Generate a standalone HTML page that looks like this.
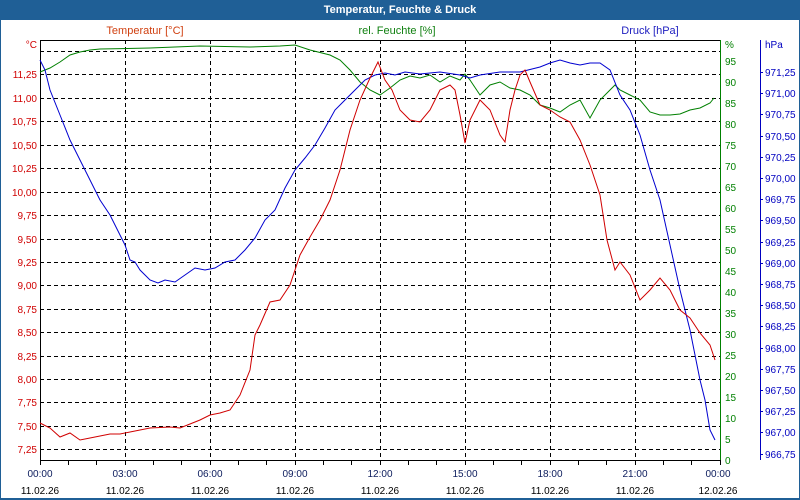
<!DOCTYPE html>
<html><head><meta charset="utf-8"><style>
html,body{margin:0;padding:0;background:#fff}
svg{display:block;font-family:"Liberation Sans",sans-serif;font-size:10px}
</style></head><body>
<svg width="800" height="500" viewBox="0 0 800 500">
<rect x="0" y="0" width="800" height="500" fill="#1f5f96"/>
<rect x="1" y="20" width="798" height="478" fill="#fff"/>
<text x="400" y="13" fill="#fff" font-weight="bold" font-size="11" text-anchor="middle">Temperatur, Feuchte &amp; Druck</text>
<text x="145" y="34" fill="#d04010" font-size="11" text-anchor="middle">Temperatur [°C]</text>
<text x="397" y="34" fill="#108010" font-size="11" text-anchor="middle">rel. Feuchte [%]</text>
<text x="650" y="34" fill="#2020c0" font-size="11" text-anchor="middle">Druck [hPa]</text>
<g stroke="#000" stroke-dasharray="4,3" stroke-width="1">
<path d="M40 51.5H720M40 74.5H720M40 98.5H720M40 121.5H720M40 145.5H720M40 168.5H720M40 192.5H720M40 215.5H720M40 239.5H720M40 262.5H720M40 285.5H720M40 309.5H720M40 332.5H720M40 356.5H720M40 379.5H720M40 402.5H720M40 426.5H720M40 449.5H720"/>
<path d="M125.5 40V460M210.5 40V460M295.5 40V460M380.5 40V460M465.5 40V460M550.5 40V460M635.5 40V460"/>
</g>
<path d="M40.5 40V460.5H720.5V40" fill="none" stroke="#000"/>
<path d="M40 40.5H720" stroke="#000"/>
<path d="M720.5 40V460" stroke="#008000"/>
<path d="M760.5 40V460" stroke="#0000c0"/>
<g stroke="#000">
<path d="M68.5 460v5M96.5 460v5M125.5 460v5M153.5 460v5M181.5 460v5M210.5 460v5M238.5 460v5M266.5 460v5M295.5 460v5M323.5 460v5M351.5 460v5M380.5 460v5M408.5 460v5M436.5 460v5M465.5 460v5M493.5 460v5M521.5 460v5M550.5 460v5M578.5 460v5M606.5 460v5M635.5 460v5M663.5 460v5M691.5 460v5M720.5 460v5M40.5 460v5"/>
</g>
<g fill="#d00000" text-anchor="end">
<text x="37" y="48">°C</text>
<text x="37" y="78">11,25</text><text x="37" y="102">11,00</text><text x="37" y="125">10,75</text><text x="37" y="149">10,50</text><text x="37" y="172">10,25</text><text x="37" y="196">10,00</text><text x="37" y="219">9,75</text><text x="37" y="243">9,50</text><text x="37" y="266">9,25</text><text x="37" y="289">9,00</text><text x="37" y="313">8,75</text><text x="37" y="336">8,50</text><text x="37" y="360">8,25</text><text x="37" y="383">8,00</text><text x="37" y="406">7,75</text><text x="37" y="430">7,50</text><text x="37" y="453">7,25</text>
</g>
<g fill="#008000">
<text x="725" y="48">%</text>
<text x="725" y="65">95</text><text x="725" y="86">90</text><text x="725" y="107">85</text><text x="725" y="128">80</text><text x="725" y="149">75</text><text x="725" y="170">70</text><text x="725" y="191">65</text><text x="725" y="212">60</text><text x="725" y="233">55</text><text x="725" y="254">50</text><text x="725" y="275">45</text><text x="725" y="296">40</text><text x="725" y="317">35</text><text x="725" y="338">30</text><text x="725" y="359">25</text><text x="725" y="380">20</text><text x="725" y="401">15</text><text x="725" y="422">10</text><text x="725" y="443">5</text><text x="725" y="464">0</text>
</g>
<g fill="#0000c0">
<text x="765" y="48">hPa</text>
<text x="765" y="76">971,25</text><text x="765" y="97">971,00</text><text x="765" y="118">970,75</text><text x="765" y="140">970,50</text><text x="765" y="161">970,25</text><text x="765" y="182">970,00</text><text x="765" y="203">969,75</text><text x="765" y="224">969,50</text><text x="765" y="246">969,25</text><text x="765" y="267">969,00</text><text x="765" y="288">968,75</text><text x="765" y="309">968,50</text><text x="765" y="330">968,25</text><text x="765" y="352">968,00</text><text x="765" y="373">967,75</text><text x="765" y="394">967,50</text><text x="765" y="415">967,25</text><text x="765" y="436">967,00</text><text x="765" y="458">966,75</text>
</g>
<g stroke="#0000c0"><path d="M760 72.5h3M760 93.5h3M760 114.5h3M760 136.5h3M760 157.5h3M760 178.5h3M760 199.5h3M760 220.5h3M760 242.5h3M760 263.5h3M760 284.5h3M760 305.5h3M760 326.5h3M760 348.5h3M760 369.5h3M760 390.5h3M760 411.5h3M760 432.5h3M760 454.5h3"/></g>
<g fill="#102060" text-anchor="middle">
<text x="40" y="477">00:00</text><text x="125" y="477">03:00</text><text x="210" y="477">06:00</text><text x="295" y="477">09:00</text><text x="380" y="477">12:00</text><text x="465" y="477">15:00</text><text x="550" y="477">18:00</text><text x="635" y="477">21:00</text><text x="718" y="477">00:00</text>
</g>
<g fill="#000" text-anchor="middle">
<text x="40" y="494">11.02.26</text><text x="125" y="494">11.02.26</text><text x="210" y="494">11.02.26</text><text x="295" y="494">11.02.26</text><text x="380" y="494">11.02.26</text><text x="465" y="494">11.02.26</text><text x="550" y="494">11.02.26</text><text x="635" y="494">11.02.26</text><text x="718" y="494">12.02.26</text>
</g>
<polyline fill="none" stroke="#008000" points="40,72 50,68 60,62 70,55 80,52 90,50 100,49 150,48 200,46 250,47 280,46 295,45 310,50 330,55 340,60 350,70 360,82 370,90 380,95 390,88 400,80 410,76 420,78 430,75 440,82 450,76 460,80 465,74 470,80 480,95 490,85 500,82 510,88 520,90 530,95 540,105 550,108 560,112 570,105 580,100 590,118 600,100 610,90 615,85 620,90 630,95 640,100 650,112 660,115 670,115 680,114 690,110 700,108 710,103 714,98"/>
<polyline fill="none" stroke="#0000d0" points="40,60 45,70 50,90 60,115 70,140 80,160 90,180 100,200 110,215 120,235 125,245 130,260 135,262 140,270 150,280 158,283 165,280 175,282 185,275 195,268 205,270 215,268 225,262 235,260 245,250 255,238 265,220 275,210 285,188 295,170 305,158 315,145 325,128 335,110 345,100 355,90 365,80 375,75 385,73 395,75 405,72 420,74 440,72 460,75 470,78 480,75 500,72 520,72 540,67 550,63 560,60 570,63 580,65 590,63 600,63 610,70 620,95 630,110 640,135 650,170 660,200 670,245 680,290 690,330 700,380 705,400 710,430 715,440"/>
<polyline fill="none" stroke="#d00000" points="40,423 50,428 60,437 70,433 80,440 90,438 100,436 110,434 120,434 130,432 150,428 170,427 180,428 190,424 200,420 210,415 220,413 230,410 240,395 250,370 255,335 260,325 270,302 280,300 290,285 300,255 310,237 320,220 330,200 340,170 350,130 360,100 370,78 378,62 385,80 392,90 400,110 410,120 420,122 430,110 440,90 450,85 455,90 460,115 465,143 470,120 480,100 490,110 500,135 505,142 510,110 515,90 520,75 525,70 530,82 540,105 550,110 560,117 570,122 580,140 590,165 600,195 607,240 615,270 620,262 630,275 640,300 650,290 660,278 670,290 680,310 690,318 700,333 710,345 715,360"/>
</svg>
</body></html>
